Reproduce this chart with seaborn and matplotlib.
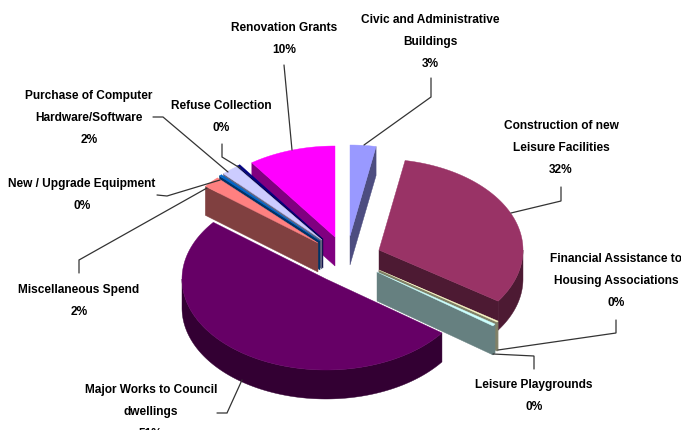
import numpy as np
import matplotlib
matplotlib.use("Agg")
import matplotlib.pyplot as plt
from matplotlib.patches import Polygon
import seaborn as sns

# Capital spend shares, clockwise from twelve o'clock
categories = [
    "Civic and Administrative\nBuildings",
    "Construction of new\nLeisure Facilities",
    "Financial Assistance to\nHousing Associations",
    "Leisure Playgrounds",
    "Major Works to Council\ndwellings",
    "Miscellaneous Spend",
    "New / Upgrade Equipment",
    "Purchase of Computer\nHardware/Software",
    "Refuse Collection",
    "Renovation Grants",
]
shares = [2.9, 31.6, 0.2, 0.4, 50.6, 2.0, 0.3, 1.9, 0.3, 9.8]

top_colors = ["#9999FF", "#993366", "#FFFFCC", "#CCFFFF", "#660066",
              "#FF8080", "#0066CC", "#CCCCFF", "#000080", "#FF00FF"]

# Where each exploded slice has its tip on the canvas
tips = [(350, 236), (379, 250), (379, 270), (377, 272), (326, 279),
        (318, 243), (320, 241), (322, 240), (323, 239), (335, 237)]
# Rear slices first so nearer ones overlap them
paint_order = [9, 0, 8, 7, 6, 5, 1, 2, 3, 4]

label_centers = [(430, 42), (561, 148), (616, 281), (534, 396), (151, 412),
                 (79, 301), (82, 195), (89, 118), (221, 117), (284, 39)]
leaders = [
    [(431, 78), (431, 97), (364, 145)],
    [(561, 187), (561, 201), (511, 213)],
    [(616, 320), (616, 333), (498, 350)],
    [(534, 369), (534, 356), (493, 354)],
    [(217, 413), (227, 413), (242, 380)],
    [(79, 273), (79, 260), (207, 188)],
    [(157, 195), (167, 196), (220, 180)],
    [(153, 117), (163, 117), (228, 172)],
    [(222, 144), (222, 157), (240, 168)],
    [(284, 65), (292, 150)],
]

RX, RY, DEPTH = 144, 91, 29

sns.set_theme(style="white")
plt.rcParams["font.family"] = ["Liberation Sans"]

fig = plt.figure(figsize=(6.81, 4.30), dpi=100)
ax = fig.add_axes([0, 0, 1, 1])
ax.set_xlim(0, 681)
ax.set_ylim(430, 0)
ax.axis("off")


def rim(tip, a, b):
    """Points on the elliptical rim between clockwise angles a and b (degrees)."""
    t = np.radians(np.linspace(a, b, max(int(abs(b - a)) * 2, 2)))
    return np.column_stack([tip[0] + RX * np.sin(t), tip[1] - RY * np.cos(t)])


def draw_slice(tip, a, b, color):
    rgb = np.array(matplotlib.colors.to_rgb(color))
    dark = tuple(rgb * 0.5)
    drop = np.array([0, DEPTH])
    apex = np.array(tip, dtype=float)
    arc = rim(tip, a, b)

    def face(points, c):
        ax.add_patch(Polygon(points, closed=True, fc=c, ec=c, lw=0.3))

    if np.sin(np.radians(a)) < 0:
        face([apex, arc[0], arc[0] + drop, apex + drop], dark)
    if np.sin(np.radians(b)) > 0:
        face([apex, arc[-1], arc[-1] + drop, apex + drop], dark)
    lo, hi = max(a, 90), min(b, 270)
    if hi > lo:
        front = rim(tip, lo, hi)
        face(np.vstack([front, (front + drop)[::-1]]), dark)
    face(np.vstack([apex, arc]), color)


edges = np.concatenate([[0], np.cumsum(shares)]) * 360 / sum(shares)
for i in paint_order:
    draw_slice(tips[i], edges[i], edges[i + 1], top_colors[i])

for path in leaders:
    xs, ys = zip(*path)
    ax.plot(xs, ys, color="#333333", lw=0.9, solid_joinstyle="miter")

for name, share, (x, y) in zip(categories, shares, label_centers):
    ax.text(x, y, f"{name}\n{share:.0f}%", ha="center", va="center",
            fontsize=8.6, fontweight="bold", color="black",
            linespacing=2.12)

fig.savefig("out.png", dpi=100, facecolor="white")
